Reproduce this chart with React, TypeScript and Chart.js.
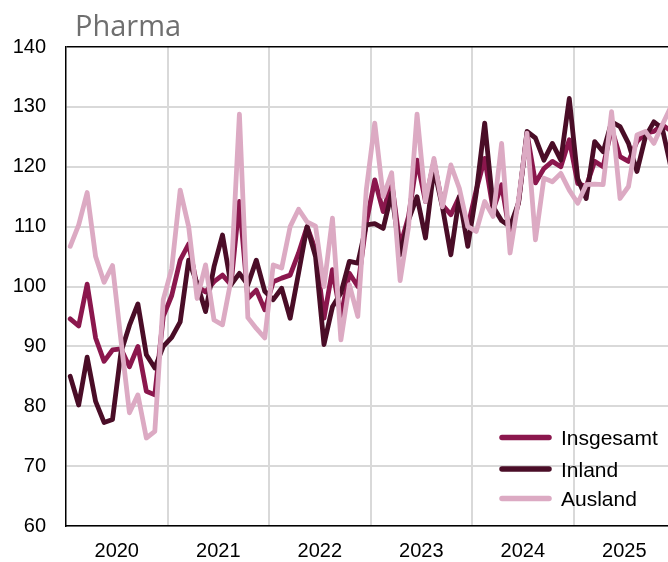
import React, { useEffect, useRef } from "react";
import { Chart, registerables } from "chart.js";

Chart.register(...registerables);

// Months Jan 2020 .. Dec 2025 (index 0..71)
const years = ["2020", "2021", "2022", "2023", "2024", "2025"];

const insgesamt = [
  94.6, 93.4, 100.4, 91.4, 87.5, 89.4, 89.6, 86.6, 90.0, 82.5, 81.9, 95.0,
  98.5, 104.4, 107.1, 100.0, 99.1, 100.8, 101.9, 100.3, 114.2, 98.0, 99.4, 96.1,
  100.8, 101.4, 101.9, 105.6, 110.0, 106.1, 94.7, 102.8, 95.0, 102.2, 100.0, 110.6,
  117.8, 112.5, 117.5, 106.7, 111.7, 121.1, 114.2, 120.9, 113.6, 112.0, 115.0, 110.0,
  116.1, 121.4, 112.8, 117.0, 108.5, 114.0, 125.6, 117.3, 119.7, 120.9, 120.0, 124.5,
  117.2, 116.7, 120.9, 120.0, 126.4, 121.7, 120.9, 124.2, 125.6, 125.9, 127.0, 126.0,
];

const inland = [
  85.0, 80.2, 88.2, 80.8, 77.3, 77.8, 89.0, 93.5, 97.1, 88.6, 86.4, 90.0,
  91.5, 94.1, 104.4, 100.5, 95.8, 103.3, 108.6, 100.3, 102.2, 100.3, 104.4, 99.2,
  97.8, 99.7, 94.7, 102.3, 110.0, 105.0, 90.3, 96.6, 98.9, 104.2, 103.9, 110.3,
  110.5, 109.7, 115.6, 105.3, 111.1, 115.0, 108.1, 119.7, 113.3, 105.3, 115.0, 106.7,
  115.6, 127.3, 113.3, 111.0, 110.0, 114.0, 125.9, 124.8, 121.1, 123.9, 121.1, 131.4,
  118.0, 114.7, 124.2, 122.5, 127.5, 126.7, 123.9, 119.2, 125.0, 127.5, 126.4, 120.0,
];

const ausland = [
  106.7, 110.3, 115.7, 105.0, 100.7, 103.5, 91.0, 78.9, 81.9, 74.7, 75.8, 97.8,
  103.0, 116.1, 110.0, 98.0, 103.6, 94.4, 93.6, 101.0, 128.8, 94.8, 93.0, 91.4,
  103.6, 103.1, 110.0, 112.9, 110.8, 110.1, 100.0, 111.4, 91.1, 100.3, 95.0, 116.1,
  127.3, 115.0, 119.0, 101.0, 110.0, 128.8, 114.2, 121.4, 113.3, 120.3, 116.4, 110.0,
  109.2, 114.2, 111.7, 123.9, 105.6, 114.5, 125.6, 107.8, 118.1, 117.5, 118.9, 116.1,
  113.9, 117.0, 117.1, 117.0, 129.2, 114.7, 116.7, 125.3, 125.9, 123.9, 127.0, 130.0,
];

const seriesNames = ["Insgesamt", "Inland", "Ausland"];
const seriesColors = ["#8b174d", "#4a0d27", "#dcaac3"];

const FONT = "'Liberation Sans', Arial, sans-serif";

export default function App() {
  const ref = useRef<HTMLCanvasElement>(null);

  useEffect(() => {
    if (!ref.current) return;
    const toPts = (arr: number[]) => arr.map((v, i) => ({ x: i + 0.5, y: v }));
    const seriesData = [insgesamt, inland, ausland];

    const titlePlugin = {
      id: "pharmaTitle",
      afterDraw(chart: any) {
        const ctx = chart.ctx;
        ctx.save();
        ctx.font = "29px 'Open Sans', 'Noto Sans', sans-serif";
        ctx.fillStyle = "#6f6f6f";
        ctx.textBaseline = "alphabetic";
        ctx.textAlign = "left";
        ctx.fillText("Pharma", 75, 36);
        ctx.restore();
      },
    };

    const legendPlugin = {
      id: "insideLegend",
      afterDraw(chart: any) {
        const ctx = chart.ctx;
        const rows = [445, 476.5, 506];
        ctx.save();
        seriesNames.forEach((name, k) => {
          const base = rows[k];
          const ly = base - 7.5;
          ctx.beginPath();
          ctx.strokeStyle = seriesColors[k];
          ctx.lineWidth = 5.5;
          ctx.lineCap = "round";
          ctx.moveTo(502, ly);
          ctx.lineTo(549, ly);
          ctx.stroke();
          ctx.fillStyle = "#000";
          ctx.font = `21px ${FONT}`;
          ctx.textBaseline = "alphabetic";
          ctx.textAlign = "left";
          ctx.fillText(name, 561, base);
        });
        ctx.restore();
      },
    };

    const chart = new Chart(ref.current, {
      type: "line",
      data: {
        datasets: seriesNames.map((name, k) => ({
          label: name,
          data: toPts(seriesData[k]),
          borderColor: seriesColors[k],
          backgroundColor: seriesColors[k],
          borderWidth: 4.8,
          pointRadius: 0,
          tension: 0,
          borderJoinStyle: "round" as const,
          borderCapStyle: "round" as const,
          order: 2 - k,
        })),
      },
      options: {
        animation: false,
        responsive: true,
        maintainAspectRatio: false,
        layout: { padding: { top: 47, left: 0, right: 0, bottom: 0 } },
        plugins: {
          legend: { display: false },
          tooltip: { enabled: false },
          title: { display: false },
        },
        scales: {
          x: {
            type: "linear",
            min: 0,
            max: 71.17,
            afterBuildTicks: (scale: any) => {
              const t = [];
              for (let v = 0; v <= 66; v += 6) t.push({ value: v });
              scale.ticks = t;
            },
            afterFit: (scale: any) => {
              scale.height = 36;
            },
            ticks: {
              autoSkip: false,
              maxRotation: 0,
              padding: 13,
              color: "#000",
              font: { family: FONT, size: 20 },
              callback: (value: any) => {
                const v = Number(value);
                return v % 12 === 6 ? years[(v - 6) / 12] : "";
              },
            },
            grid: {
              drawTicks: false,
              lineWidth: 2,
              color: (ctx: any) => {
                const v = ctx.tick ? ctx.tick.value : 0;
                return v > 0 && v % 12 === 0 ? "#d9d9d9" : "rgba(0,0,0,0)";
              },
            },
            border: { display: true, color: "#000", width: 1.5 },
          },
          y: {
            min: 60,
            max: 140,
            afterFit: (scale: any) => {
              scale.width = 66;
            },
            ticks: {
              stepSize: 10,
              padding: 20,
              color: "#000",
              font: { family: FONT, size: 20 },
            },
            grid: {
              drawTicks: false,
              lineWidth: (ctx: any) => (ctx.tick && ctx.tick.value === 140 ? 1.5 : 2),
              color: (ctx: any) =>
                ctx.tick && ctx.tick.value === 140 ? "#000" : "#d9d9d9",
            },
            border: { display: true, color: "#000", width: 1.5 },
          },
        },
      },
      plugins: [titlePlugin, legendPlugin],
    });

    return () => chart.destroy();
  }, []);

  return (
    <div
      style={{
        position: "fixed",
        left: 0,
        top: 0,
        width: 668,
        height: 562,
        overflow: "hidden",
        background: "#fff",
      }}
    >
      <canvas ref={ref} />
    </div>
  );
}
